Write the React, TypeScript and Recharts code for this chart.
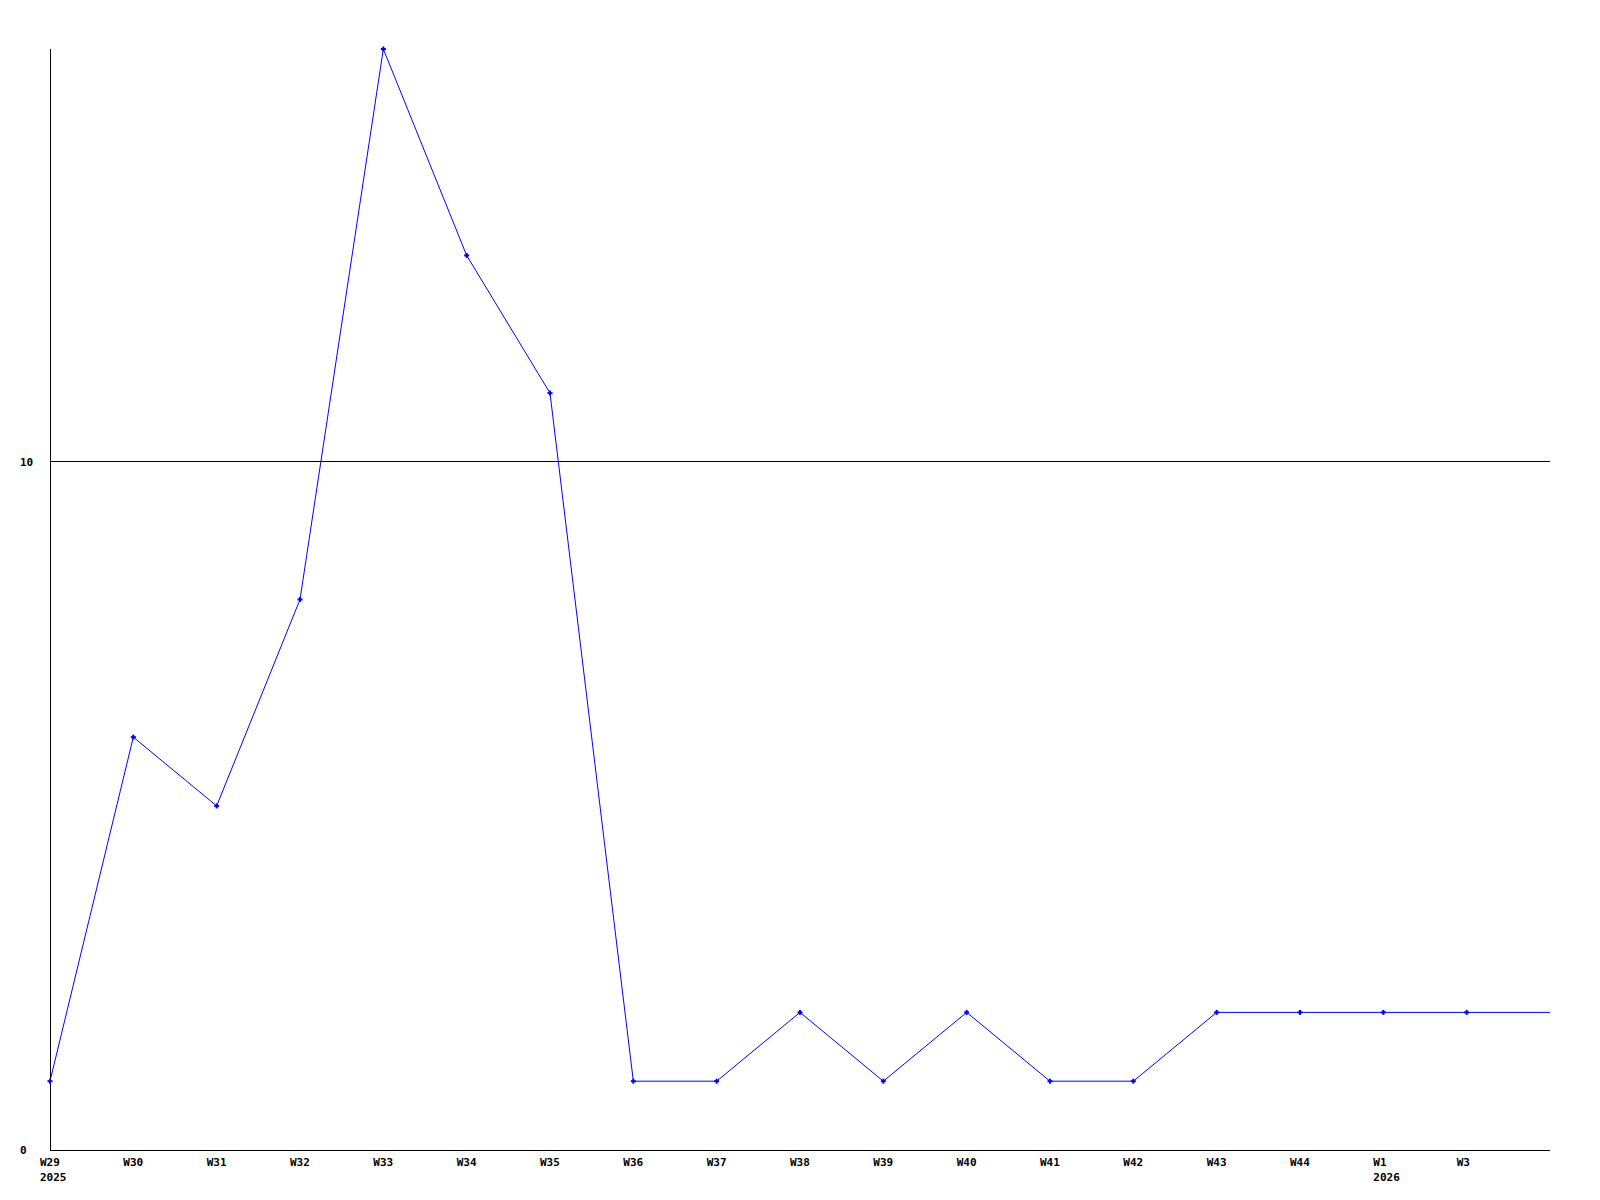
import { LineChart, Line, XAxis, YAxis, ReferenceLine } from 'recharts'

const weeks = ['W29', 'W30', 'W31', 'W32', 'W33', 'W34', 'W35', 'W36', 'W37', 'W38', 'W39', 'W40', 'W41', 'W42', 'W43', 'W44', 'W1', 'W3', '']
const years = ['2025', '', '', '', '', '', '', '', '', '', '', '', '', '', '', '', '2026', '', '']
const counts = [1, 6, 5, 8, 16, 13, 11, 1, 1, 2, 1, 2, 1, 1, 2, 2, 2, 2, 2]
const yTicks = [0, 10]

const data = weeks.map((w, i) => ({ week: w, year: years[i], count: counts[i] }))

const FONT = '"DejaVu Sans Mono", monospace'

function WeekTick(props: any) {
  const { x, y, payload, index } = props
  const label = payload.value as string
  if (!label) return null
  // labels start a little left of the tick, not centred on it
  const left = x - 10
  return (
    <g>
      <text x={left} y={y + 8} fontFamily={FONT} fontSize={11} fontWeight="bold" fill="#000">
        {label}
      </text>
      {years[index] && (
        <text x={left} y={y + 23} fontFamily={FONT} fontSize={11} fontWeight="bold" fill="#000">
          {years[index]}
        </text>
      )}
    </g>
  )
}

function CountTick(props: any) {
  const { y, payload } = props
  return (
    <text x={12} y={y + 4} fontFamily={FONT} fontSize={11} fontWeight="bold" fill="#000">
      {payload.value}
    </text>
  )
}

function PlusDot(props: any) {
  const { cx, cy, payload } = props
  if (!payload.week) return <g />
  return (
    <g fill="#0000ff">
      <rect x={cx - 2.5} y={cy - 1} width={5} height={2} />
      <rect x={cx - 1} y={cy - 2.5} width={2} height={5} />
    </g>
  )
}

export default function App() {
  return (
    <div style={{ background: '#fff' }}>
      <LineChart width={1584} height={1184} data={data} margin={{ top: 41, right: 42, bottom: 2, left: 0 }}>
        <XAxis
          dataKey="week"
          interval={0}
          height={40}
          axisLine={{ stroke: '#000', shapeRendering: 'crispEdges' }}
          tickLine={false}
          tick={<WeekTick />}
        />
        <YAxis
          width={42}
          domain={[0, 16]}
          ticks={yTicks}
          axisLine={{ stroke: '#000', shapeRendering: 'crispEdges' }}
          tickLine={false}
          tick={<CountTick />}
        />
        <ReferenceLine y={10} stroke="#000" shapeRendering="crispEdges" />
        <Line
          type="linear"
          dataKey="count"
          stroke="#0000ff"
          strokeWidth={1}
          dot={<PlusDot />}
          activeDot={false}
          isAnimationActive={false}
        />
      </LineChart>
    </div>
  )
}
